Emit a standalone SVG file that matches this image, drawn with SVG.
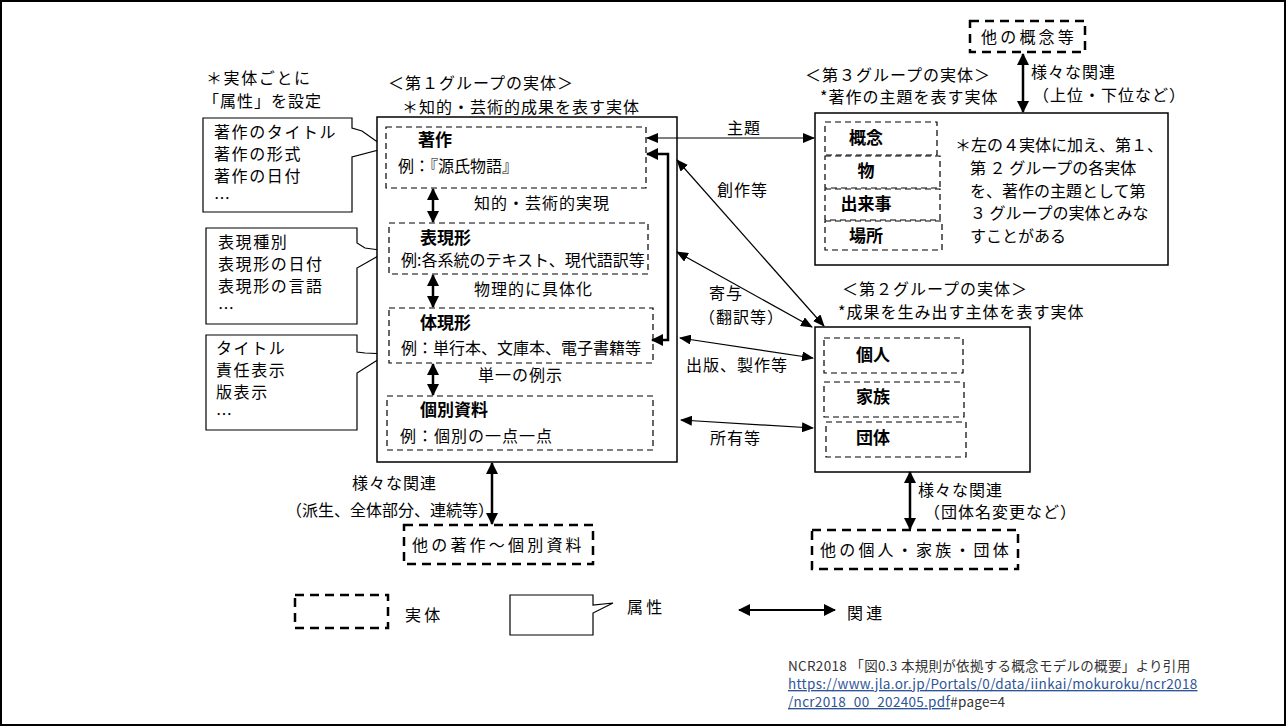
<svg xmlns="http://www.w3.org/2000/svg" width="1286" height="726" viewBox="0 0 1286 726">
<defs>
<style>
text{font-family:"Noto Sans CJK JP","Noto Sans CJK SC",sans-serif;font-size:16px;fill:#000}
.b{font-weight:bold;font-size:17px}
.m{text-anchor:middle}
.l1{letter-spacing:1px}
.l2{letter-spacing:1.6px}
.l3{letter-spacing:3.2px}
.grp{fill:#fff;stroke:#000;stroke-width:1.5}
.ent{fill:none;stroke:#000;stroke-width:1.2;stroke-dasharray:6 4}
.ext{fill:#fff;stroke:#000;stroke-width:2.5;stroke-dasharray:9 6}
.attr{fill:#fff;stroke:#000;stroke-width:1.2}
.thin{fill:none;stroke:#000;stroke-width:1.2;marker-start:url(#ah);marker-end:url(#ah)}
.thick{fill:none;stroke:#000;stroke-width:2.5;marker-start:url(#ahb);marker-end:url(#ahb)}
.cite{font-size:13.5px;fill:#333;letter-spacing:0.3px}
.link{fill:#2f5597;text-decoration:underline}
</style>
<marker id="ah" markerUnits="userSpaceOnUse" viewBox="0 0 12 10" refX="11" refY="5" markerWidth="12" markerHeight="10" orient="auto-start-reverse"><path d="M0,0 L12,5 L0,10 z" fill="#000"/></marker>
<marker id="ahb" markerUnits="userSpaceOnUse" viewBox="0 0 12 12" refX="11" refY="6" markerWidth="12" markerHeight="12" orient="auto-start-reverse"><path d="M0,0 L12,6 L0,12 z" fill="#000"/></marker>
</defs>
<rect x="0" y="0" width="1286" height="726" fill="#fff"/>
<rect x="1" y="1" width="1284" height="724" fill="none" stroke="#000" stroke-width="2"/>

<!-- left header -->
<g id="attr-header">
<text class="l2" x="206" y="84">＊実体ごとに</text>
<text class="l1" x="203" y="107">「属性」を設定</text>
</g>

<!-- attribute callouts -->
<g id="attr-work">
<path class="attr" d="M203,118 H352 V128 L362,131 L386,148 L352,157 V212 H203 Z"/>
<text class="l2" x="214" y="138">著作のタイトル</text>
<text class="l2" x="214" y="160">著作の形式</text>
<text class="l2" x="214" y="182">著作の日付</text>
<text x="214" y="204">…</text>
</g>
<g id="attr-expression">
<path class="attr" d="M206,228 H357 V243 L365,248 L387,251 L357,268 V324 H206 Z"/>
<text class="l2" x="218" y="248">表現種別</text>
<text class="l2" x="218" y="270">表現形の日付</text>
<text class="l2" x="218" y="292">表現形の言語</text>
<text x="218" y="314">…</text>
</g>
<g id="attr-manifestation">
<path class="attr" d="M206,335 H357 V352 L365,353 L387,354 L357,373 V430 H206 Z"/>
<text class="l2" x="216" y="354">タイトル</text>
<text class="l2" x="216" y="376">責任表示</text>
<text class="l2" x="216" y="398">版表示</text>
<text x="216" y="420">…</text>
</g>

<!-- group 1 -->
<g id="group1">
<text class="l1" x="388" y="89">＜第１グループの実体＞</text>
<text class="l1" x="402" y="113">＊知的・芸術的成果を表す実体</text>
<rect class="grp" x="377" y="117" width="300" height="345"/>
</g>
<g id="work">
<rect class="ent" x="386" y="127" width="260" height="61"/>
<text class="b" x="418" y="146">著作</text>
<text x="398" y="172">例：『源氏物語』</text>
</g>
<g id="expression">
<rect class="ent" x="389" y="223" width="259" height="51"/>
<text class="b" x="420" y="244">表現形</text>
<text x="401" y="266" font-size="15">例:各系統のテキスト、現代語訳等</text>
</g>
<g id="manifestation">
<rect class="ent" x="389" y="308" width="264" height="55"/>
<text class="b" x="420" y="329">体現形</text>
<text x="401" y="354">例：単行本、文庫本、電子書籍等</text>
</g>
<g id="item">
<rect class="ent" x="387" y="396" width="266" height="54"/>
<text class="b" x="420" y="416">個別資料</text>
<text class="l1" x="400" y="442">例：個別の一点一点</text>
</g>

<!-- group 3 -->
<g id="group3">
<text class="l1" x="805" y="81">＜第３グループの実体＞</text>
<text class="l1" x="820" y="103">*著作の主題を表す実体</text>
<rect class="grp" x="815" y="113" width="353" height="152"/>
<text x="955" y="151">＊左の４実体に加え、第１、</text>
<text x="970" y="174">第 ２ グループの各実体</text>
<text x="970" y="197">を、著作の主題として第</text>
<text x="970" y="219">３ グループの実体とみな</text>
<text x="970" y="242">すことがある</text>
</g>
<g id="concept"><rect class="ent" x="825" y="122" width="112" height="33"/><text class="b m" x="866" y="144">概念</text></g>
<g id="object"><rect class="ent" x="825" y="156" width="115" height="32"/><text class="b m" x="866" y="177">物</text></g>
<g id="event"><rect class="ent" x="825" y="189" width="115" height="31"/><text class="b m" x="866" y="210">出来事</text></g>
<g id="place"><rect class="ent" x="825" y="221" width="117" height="29"/><text class="b m" x="866" y="242">場所</text></g>
<g id="other-concepts">
<rect class="ext" x="970" y="21" width="115" height="31"/>
<text class="l3" x="981" y="43">他の概念等</text>
</g>

<!-- group 2 -->
<g id="group2">
<text class="l1" x="842" y="295">＜第２グループの実体＞</text>
<text class="l1" x="838" y="318">*成果を生み出す主体を表す実体</text>
<rect class="grp" x="815" y="327" width="215" height="145"/>
</g>
<g id="person"><rect class="ent" x="824" y="338" width="139" height="35"/><text class="b m" x="873" y="361">個人</text></g>
<g id="family"><rect class="ent" x="824" y="382" width="140" height="35"/><text class="b m" x="873" y="403">家族</text></g>
<g id="corporate"><rect class="ent" x="826" y="422" width="140" height="35"/><text class="b m" x="873" y="444">団体</text></g>
<g id="other-agents">
<rect class="ext" x="812" y="530" width="206" height="39"/>
<text class="l3" x="820" y="556">他の個人・家族・団体</text>
</g>
<g id="other-works">
<rect class="ext" x="404" y="525" width="189" height="39"/>
<text class="l3" x="412" y="551">他の著作〜個別資料</text>
</g>

<!-- connectors -->
<g id="connectors">
<line class="thick" x1="433" y1="189" x2="433" y2="222"/>
<line class="thick" x1="433" y1="275" x2="433" y2="307"/>
<line class="thick" x1="433" y1="364" x2="433" y2="395"/>
<path class="thick" d="M652,340 H668 V154 H647"/>
<line class="thin" x1="647" y1="138" x2="814" y2="138"/>
<line class="thin" x1="677" y1="160" x2="824" y2="326"/>
<line class="thin" x1="677" y1="252" x2="812" y2="327"/>
<line class="thin" x1="680" y1="338" x2="813" y2="358"/>
<line class="thin" x1="681" y1="420" x2="813" y2="428"/>
<line class="thick" x1="492" y1="463" x2="492" y2="524"/>
<line class="thick" x1="1023" y1="54" x2="1023" y2="112"/>
<line class="thick" x1="910" y1="472" x2="910" y2="529"/>
</g>

<!-- connector labels -->
<g id="labels">
<text class="l1" x="474" y="209">知的・芸術的実現</text>
<text class="l1" x="474" y="295">物理的に具体化</text>
<text class="l1" x="478" y="381">単一の例示</text>
<text class="l1" x="727" y="134">主題</text>
<text class="l1" x="717" y="196">創作等</text>
<text class="l1" x="709" y="299">寄与</text>
<text class="l1" x="699" y="323">（翻訳等）</text>
<text class="l1" x="686" y="371">出版、製作等</text>
<text class="l1" x="710" y="444">所有等</text>
<text class="l1" x="352" y="489">様々な関連</text>
<text x="286" y="516" font-size="15.4">（派生、全体部分、連続等）</text>
<text class="l1" x="1031" y="78">様々な関連</text>
<text class="l1" x="1033" y="101">（上位・下位など）</text>
<text class="l1" x="918" y="496">様々な関連</text>
<text class="l1" x="924" y="518">（団体名変更など）</text>
</g>

<!-- legend -->
<g id="legend">
<rect class="ext" x="295" y="595" width="93" height="33"/>
<text class="l3" x="405" y="621">実体</text>
<path class="attr" d="M510,595 H593 V605 L613,603 L593,613 V635 H510 Z"/>
<text class="l3" x="627" y="613">属性</text>
<line x1="739" y1="610" x2="835" y2="610" stroke="#000" stroke-width="2" marker-start="url(#ahb)" marker-end="url(#ahb)"/>
<text class="l3" x="847" y="619">関連</text>
</g>

<!-- citation -->
<g id="citation">
<text class="cite" x="788" y="671">NCR2018 「図0.3 本規則が依拠する概念モデルの概要」より引用</text>
<text class="cite link" x="788" y="689">https://www.jla.or.jp/Portals/0/data/iinkai/mokuroku/ncr2018</text>
<text class="cite" x="788" y="707"><tspan class="link">/ncr2018_00_202405.pdf</tspan>#page=4</text>
</g>
</svg>
